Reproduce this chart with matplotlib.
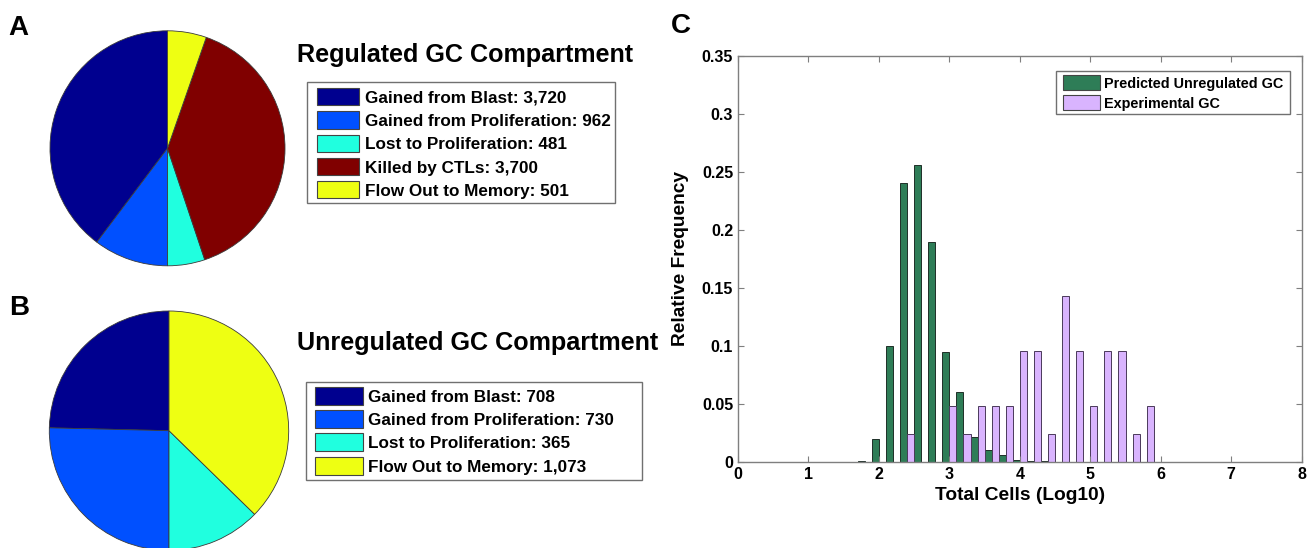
import numpy as np
import matplotlib
matplotlib.use("Agg")
import matplotlib.pyplot as plt
from matplotlib.patches import Rectangle
from matplotlib.ticker import FuncFormatter

plt.rcParams['font.family'] = ['Liberation Sans', 'DejaVu Sans']
plt.rcParams['font.weight'] = 'bold'

# ---- data ----
flow_labels_reg = ["Gained from Blast", "Gained from Proliferation",
                   "Lost to Proliferation", "Killed by CTLs", "Flow Out to Memory"]
flow_values_reg = [3720, 962, 481, 3700, 501]

flow_labels_unreg = ["Gained from Blast", "Gained from Proliferation",
                     "Lost to Proliferation", "Flow Out to Memory"]
flow_values_unreg = [708, 730, 365, 1073]

bin_centers = [1.8, 2.0, 2.2, 2.4, 2.6, 2.8, 3.0, 3.2, 3.4, 3.6, 3.8,
               4.0, 4.2, 4.4, 4.6, 4.8, 5.0, 5.2, 5.4, 5.6, 5.8]
predicted_freq = [0.001, 0.0195, 0.100, 0.240, 0.256, 0.189, 0.095, 0.060,
                  0.021, 0.010, 0.0055, 0.0017, 0.0008, 0.0005, 0, 0, 0, 0,
                  0, 0, 0]
experimental_counts = [0, 0, 0, 1, 0, 0, 2, 1, 2, 2, 2, 4, 4, 1, 6, 4, 2, 4,
                       4, 1, 2]
experimental_total = 42
hist_series = ["Predicted Unregulated GC", "Experimental GC"]

x_ticks = [0, 1, 2, 3, 4, 5, 6, 7, 8]
y_ticks = [0, 0.05, 0.1, 0.15, 0.2, 0.25, 0.3, 0.35]

# ---- styling ----
colors_reg = ['#00008F', '#0050FF', '#20FFDF', '#800000', '#EEFF12']
colors_unreg = ['#00008F', '#0050FF', '#20FFDF', '#EEFF12']
green = '#2E7D57'
lilac = '#D9B4FE'
frame_gray = '#707070'

W, H = 1308, 548
fig = plt.figure(figsize=(W / 100, H / 100), dpi=100)


def fx(x):
    return x / W


def fy(y):
    return 1 - y / H


def px_axes(left, top, width, height):
    return fig.add_axes([fx(left), fy(top + height), width / W, height / H])


def draw_pie(ax, values, colors):
    ax.pie(values, colors=colors, startangle=90, counterclock=True,
           wedgeprops=dict(edgecolor='#3a3a3a', linewidth=0.6))
    ax.set_xlim(-1, 1)
    ax.set_ylim(-1, 1)
    ax.set_aspect('equal')
    ax.axis('off')


def box_legend(texts, colors, box, patch_x, patch_w, patch_h, text_x,
               row0, row_step, size):
    """Framed legend laid out in figure pixels: box=(left, top, right, bottom)."""
    l, t, r, b = box
    fig.add_artist(Rectangle((fx(l), fy(b)), (r - l) / W, (b - t) / H,
                             transform=fig.transFigure, facecolor='white',
                             edgecolor=frame_gray, linewidth=1.0))
    for i, (txt, c) in enumerate(zip(texts, colors)):
        yc = row0 + i * row_step
        fig.add_artist(Rectangle((fx(patch_x), fy(yc + patch_h / 2)),
                                 patch_w / W, patch_h / H,
                                 transform=fig.transFigure, facecolor=c,
                                 edgecolor='#444444', linewidth=0.8))
        fig.text(fx(text_x), fy(yc), txt, fontsize=size, fontweight='bold',
                 va='center_baseline', ha='left')


def flow_texts(labels, values):
    return [f"{lab}: {val:,}" for lab, val in zip(labels, values)]


# Panel A: regulated compartment
axA = px_axes(50, 30.8, 235, 235)
draw_pie(axA, flow_values_reg, colors_reg)
fig.text(fx(297), fy(61.7), "Regulated GC Compartment", fontsize=18.1,
         fontweight='bold', va='baseline', ha='left')
box_legend(flow_texts(flow_labels_reg, flow_values_reg), colors_reg,
           box=(307, 82, 615, 203), patch_x=316.7, patch_w=42.5, patch_h=17,
           text_x=365, row0=96.7, row_step=23.3, size=12.3)

# Panel B: unregulated compartment
axB = px_axes(49.3, 311, 239.4, 239.4)
draw_pie(axB, flow_values_unreg, colors_unreg)
fig.text(fx(297), fy(350), "Unregulated GC Compartment", fontsize=18.1,
         fontweight='bold', va='baseline', ha='left')
box_legend(flow_texts(flow_labels_unreg, flow_values_unreg), colors_unreg,
           box=(306, 382, 641.7, 480), patch_x=315, patch_w=47.5, patch_h=18,
           text_x=368.3, row0=396, row_step=23.2, size=12.3)

# Panel C: histogram comparison
axC = px_axes(738, 55.7, 563.7, 406)
centers = np.array(bin_centers)
experimental_freq = np.array(experimental_counts) / experimental_total
axC.bar(centers - 0.05, predicted_freq, width=0.1, color=green,
        edgecolor='#1f2f27', linewidth=0.7, label=hist_series[0])
axC.bar(centers + 0.05, experimental_freq, width=0.1, color=lilac,
        edgecolor='#4a3a5a', linewidth=0.7, label=hist_series[1])
axC.set_xlim(0, 8)
axC.set_ylim(0, 0.35)
axC.set_xticks(x_ticks)
axC.set_yticks(y_ticks)
axC.yaxis.set_major_formatter(FuncFormatter(lambda v, p: f"{v:g}"))
axC.tick_params(direction='in', top=True, right=True, length=4, width=0.8,
                color='#7f7f7f', labelsize=11.5, pad=3.5)
for lab in axC.get_xticklabels() + axC.get_yticklabels():
    lab.set_fontweight('bold')
for sp in axC.spines.values():
    sp.set_color('#7f7f7f')
    sp.set_linewidth(1.0)
axC.set_xlabel("Total Cells (Log10)", fontsize=13.8, fontweight='bold')
axC.set_ylabel("Relative Frequency", fontsize=13.8, fontweight='bold')
axC.xaxis.set_label_coords(fx(1020), fy(487), transform=fig.transFigure)
axC.yaxis.set_label_coords(fx(689), fy(258), transform=fig.transFigure)
box_legend(hist_series, [green, lilac], box=(1056, 70.7, 1290, 114),
           patch_x=1062.7, patch_w=37.3, patch_h=15, text_x=1104,
           row0=82.7, row_step=20, size=10.4)

# Panel letters
fig.text(fx(8), fy(35), "A", fontsize=20, fontweight='bold', va='baseline')
fig.text(fx(9), fy(315), "B", fontsize=20, fontweight='bold', va='baseline')
fig.text(fx(671), fy(33.3), "C", fontsize=20, fontweight='bold', va='baseline')

fig.savefig("out.png", dpi=100)
